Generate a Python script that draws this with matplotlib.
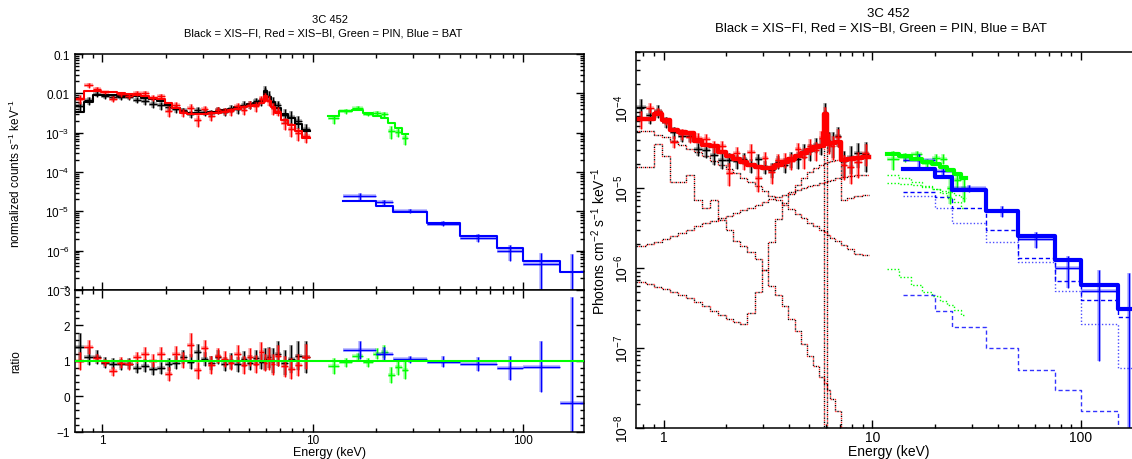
import numpy as np
import matplotlib
matplotlib.use('Agg')
import matplotlib.pyplot as plt
from matplotlib.ticker import LogLocator, FixedLocator, FixedFormatter, NullFormatter, MultipleLocator

plt.rcParams['font.family'] = ['Liberation Sans', 'DejaVu Sans']
plt.rcParams['mathtext.fontset'] = 'custom'
plt.rcParams['mathtext.rm'] = 'Liberation Sans'
plt.rcParams['mathtext.it'] = 'Liberation Sans:italic'
plt.rcParams['mathtext.default'] = 'regular'

# ---------------- XIS (black = FI, red = BI) ----------------
xis_edges = [0.74, 0.82, 0.90, 0.98, 1.07, 1.17, 1.28, 1.40, 1.53, 1.67, 1.82, 1.98, 2.15,
             2.33, 2.52, 2.73, 2.95, 3.18, 3.42, 3.68, 3.95, 4.24, 4.55, 4.88, 5.22, 5.55,
             5.85, 6.05, 6.30, 6.65, 7.10, 7.60, 8.20, 8.90, 9.70]
fi_counts = [0.0034, 0.0059, 0.0090, 0.0090, 0.0090, 0.0088, 0.0087, 0.0086, 0.0075, 0.0070,
             0.0062, 0.0050, 0.0042, 0.0033, 0.0031, 0.0031, 0.0032, 0.0033, 0.0034, 0.0037,
             0.0041, 0.0045, 0.0049, 0.0054, 0.0058, 0.0063, 0.0117, 0.0080, 0.0060, 0.0042,
             0.0030, 0.0024, 0.0017, 0.0011]
bi_counts = [0.0072, 0.0115, 0.0118, 0.0110, 0.0105, 0.0100, 0.0096, 0.0092, 0.0085, 0.0078,
             0.0070, 0.0058, 0.0042, 0.0032, 0.0029, 0.0029, 0.0030, 0.0031, 0.0032, 0.0034,
             0.0037, 0.0040, 0.0044, 0.0047, 0.0051, 0.0056, 0.0085, 0.0062, 0.0046, 0.0031,
             0.0021, 0.0016, 0.0011, 0.00072]
fi_ratio = [1.40, 1.12, 1.10, 0.95, 0.92, 0.90, 0.92, 0.80, 0.86, 0.77, 0.80, 0.90, 0.95, 1.12,
            0.98, 1.25, 1.05, 0.95, 1.10, 0.92, 1.00, 0.90, 1.05, 0.95, 1.08, 0.98, 1.05, 1.10,
            1.00, 1.20, 0.95, 1.05, 1.15, 1.10]
fi_err = [0.38, 0.25, 0.20, 0.15, 0.15, 0.15, 0.15, 0.15, 0.18, 0.18, 0.18, 0.18, 0.18, 0.20,
          0.20, 0.22, 0.20, 0.20, 0.20, 0.20, 0.22, 0.22, 0.22, 0.22, 0.22, 0.22, 0.30, 0.30,
          0.35, 0.35, 0.35, 0.40, 0.40, 0.45]
bi_ratio = [1.00, 1.38, 1.08, 0.96, 0.70, 0.95, 0.90, 1.10, 1.20, 1.00, 1.20, 0.62, 1.20, 1.02,
            1.45, 0.73, 1.35, 0.88, 1.15, 1.05, 0.95, 1.20, 0.88, 1.10, 0.92, 1.25, 0.95, 1.05,
            0.90, 1.15, 0.85, 0.78, 0.88, 1.12]
bi_err = [0.25, 0.20, 0.12, 0.10, 0.12, 0.15, 0.15, 0.15, 0.18, 0.18, 0.18, 0.20, 0.22, 0.22,
          0.35, 0.25, 0.25, 0.25, 0.22, 0.22, 0.22, 0.25, 0.25, 0.25, 0.25, 0.28, 0.25, 0.30,
          0.30, 0.30, 0.30, 0.30, 0.32, 0.35]
# unfolded model components (photons cm^-2 s^-1 keV^-1)
xis_scat = [5.2e-5, 5.2e-5, 4.6e-5, 4.3e-5, 3.9e-5, 3.5e-5, 3.1e-5, 2.8e-5, 2.5e-5, 2.2e-5,
            1.95e-5, 1.75e-5, 1.55e-5, 1.35e-5, 1.2e-5, 1.05e-5, 9.2e-6, 8.0e-6, 7.0e-6, 6.2e-6,
            5.5e-6, 4.8e-6, 4.2e-6, 3.7e-6, 3.3e-6, 3.0e-6, 2.8e-6, 2.6e-6, 2.4e-6, 2.2e-6,
            1.95e-6, 1.7e-6, 1.5e-6, 1.45e-6]
xis_refl = [1.9e-6, 2.0e-6, 2.1e-6, 2.3e-6, 2.5e-6, 2.7e-6, 3.0e-6, 3.3e-6, 3.6e-6, 3.9e-6,
            4.2e-6, 4.5e-6, 4.9e-6, 5.3e-6, 5.7e-6, 6.1e-6, 6.6e-6, 7.2e-6, 7.7e-6, 8.3e-6,
            8.9e-6, 9.5e-6, 1.0e-5, 1.05e-5, 1.1e-5, 1.15e-5, 1.18e-5, 1.22e-5, 1.27e-5, 1.32e-5,
            1.37e-5, 1.41e-5, 1.44e-5, 1.45e-5]
xis_abs = [6.6e-7, 6.2e-7, 5.8e-7, 5.4e-7, 5.0e-7, 4.6e-7, 4.2e-7, 3.7e-7, 3.3e-7, 2.9e-7,
           2.6e-7, 2.3e-7, 2.1e-7, 2.0e-7, 2.7e-7, 5.0e-7, 9.4e-7, 2.1e-6, 4.1e-6, 6.5e-6,
           8.5e-6, 1.1e-5, 1.35e-5, 1.6e-5, 1.8e-5, 1.95e-5, 2.05e-5, 2.1e-5, 2.2e-5, 2.25e-5,
           7.0e-6, 7.5e-6, 8.0e-6, 8.3e-6]
xis_therm = [1.85e-5, 1.85e-5, 3.6e-5, 2.5e-5, 1.2e-5, 1.2e-5, 1.45e-5, 7.0e-6, 5.6e-6, 7.1e-6,
             4.0e-6, 3.0e-6, 2.2e-6, 1.9e-6, 1.6e-6, 1.3e-6, 9.4e-7, 5.9e-7, 4.6e-7, 3.3e-7,
             2.3e-7, 1.6e-7, 1.1e-7, 7.8e-8, 5.9e-8, 4.3e-8, 3.6e-8, 3.0e-8, 2.3e-8, 1.6e-8,
             1.0e-8, 6.0e-9, 4.0e-9, 3.0e-9]
xis_line = [0, 0, 0, 0, 0, 0, 0, 0, 0, 0, 0, 0, 0, 0, 0, 0, 0, 0, 0, 0, 0, 0, 0, 0, 0, 0,
            5.0e-5, 0, 0, 0, 0, 0, 0, 0]

# ---------------- PIN (green) ----------------
pin_edges = [11.8, 13.4, 15.4, 17.4, 19.4, 21.1, 22.7, 24.6, 26.6, 28.3]
pin_counts = [0.0027, 0.0036, 0.0038, 0.0031, 0.0027, 0.0023, 0.0018, 0.0013, 0.00095]
pin_ratio = [0.85, 0.96, 1.13, 0.96, 1.20, 1.26, 0.60, 0.82, 0.75]
pin_err = [0.22, 0.12, 0.10, 0.12, 0.15, 0.18, 0.22, 0.22, 0.25]
pin_scat = [9.6e-7, 7.8e-7, 6.1e-7, 5.0e-7, 4.4e-7, 3.8e-7, 3.4e-7, 3.0e-7, 2.6e-7]
pin_refl = [1.45e-5, 1.32e-5, 1.20e-5, 1.07e-5, 9.6e-6, 8.6e-6, 7.6e-6, 6.6e-6, 5.6e-6]
pin_abs = [1.15e-5, 1.12e-5, 1.08e-5, 1.03e-5, 9.8e-6, 9.3e-6, 8.8e-6, 8.3e-6, 7.5e-6]

# ---------------- BAT (blue) ----------------
bat_edges = [14, 20, 24, 35, 50, 75, 100, 150, 195]
bat_counts = [1.87e-5, 1.4e-5, 9.8e-6, 5.0e-6, 2.4e-6, 1.2e-6, 5.6e-7, 2.9e-7]
bat_ratio = [1.30, 1.20, 1.05, 0.98, 0.90, 0.80, 0.83, -0.20]
bat_err = [0.25, 0.20, 0.10, 0.15, 0.20, 0.35, 0.72, 3.00]
bat_p = [8.8e-6, 7.7e-6, 5.6e-6, 3.0e-6, 1.32e-6, 6.9e-7, 4.0e-7, 2.4e-7]
bat_q = [7.9e-6, 5.6e-6, 3.7e-6, 2.1e-6, 1.17e-6, 5.2e-7, 2.0e-7, 5.6e-8]
bat_scat = [4.6e-7, 2.9e-7, 1.8e-7, 9.9e-8, 5.3e-8, 3.0e-8, 1.6e-8, 8e-9]

BLACK, RED, GREEN, BLUE = '#000000', '#ff0000', '#00ff00', '#0000ff'

W, H = 1132, 460
fig = plt.figure(figsize=(W / 100, H / 100), dpi=100)


def rect(x0, y0, x1, y1):
    return [x0 / W, 1 - y1 / H, (x1 - x0) / W, (y1 - y0) / H]


ax1 = fig.add_axes(rect(74.6, 55, 584.4, 291))
ax2 = fig.add_axes(rect(74.6, 291, 584.4, 432.7))
ax3 = fig.add_axes(rect(636, 52.7, 1141.8, 428.6))


def step(ax, edges, vals, **kw):
    e = np.asarray(edges, float)
    v = np.asarray(vals, float)
    ax.step(e, np.append(v, v[-1]), where='post', **kw)


def points(ax, edges, y, yerr, color, lw=1.0, halo=True):
    e = np.asarray(edges, float)
    lo, hi = e[:-1], e[1:]
    c = np.sqrt(lo * hi)
    if halo:
        ax.errorbar(c, y, yerr=yerr, xerr=[c - lo, hi - c], fmt='none', ecolor=color,
                    elinewidth=lw * 2.6, capsize=0, alpha=0.3)
    ax.errorbar(c, y, yerr=yerr, xerr=[c - lo, hi - c], fmt='none', ecolor=color,
                elinewidth=lw, capsize=0)


# ---------------- left top: counts ----------------
for counts, ratio, err, col in [(fi_counts, fi_ratio, fi_err, BLACK),
                                (bi_counts, bi_ratio, bi_err, RED)]:
    m = np.array(counts)
    points(ax1, xis_edges, m * np.array(ratio), m * np.array(err), col)
    step(ax1, xis_edges, m, color=col, lw=1.5)
m = np.array(pin_counts)
points(ax1, pin_edges, m * np.array(pin_ratio), m * np.array(pin_err), GREEN)
step(ax1, pin_edges, m, color=GREEN, lw=1.5)
m = np.array(bat_counts)
points(ax1, bat_edges, m * np.array(bat_ratio), m * np.array(bat_err), BLUE)
step(ax1, bat_edges, m, color=BLUE, lw=1.5)

# ---------------- left bottom: ratio ----------------
points(ax2, xis_edges, fi_ratio, fi_err, BLACK)
points(ax2, xis_edges, bi_ratio, bi_err, RED)
points(ax2, pin_edges, pin_ratio, pin_err, GREEN)
points(ax2, bat_edges, bat_ratio, bat_err, BLUE)
ax2.axhline(1.0, color=GREEN, lw=1.5, zorder=3)

# ---------------- right: unfolded spectrum ----------------
xis_comps = [xis_scat, xis_refl, xis_abs, xis_therm, xis_line]
for comp in xis_comps:
    step(ax3, xis_edges, comp, color=BLACK, lw=1.0, linestyle=(0, (1, 2)))
    step(ax3, xis_edges, comp, color=RED, lw=1.0, linestyle=(1.5, (1, 2)), alpha=0.85)
for comp in [pin_refl, pin_abs, pin_scat]:
    step(ax3, pin_edges, comp, color=GREEN, lw=1.0, linestyle=(0, (1, 1.5)))
step(ax3, bat_edges, bat_p, color=BLUE, lw=1.0, linestyle=(0, (3, 2)))
step(ax3, bat_edges, bat_q, color=BLUE, lw=1.0, linestyle=(0, (1, 1.5)), alpha=0.7)
step(ax3, bat_edges, bat_scat, color=BLUE, lw=1.0, linestyle=(0, (3, 2)), alpha=0.8)

xis_tot = np.sum(np.array(xis_comps), axis=0)
pin_tot = np.array(pin_scat) + np.array(pin_refl) + np.array(pin_abs)
bat_tot = np.array(bat_p) + np.array(bat_q) + np.array(bat_scat)

points(ax3, xis_edges, xis_tot * np.array(fi_ratio), xis_tot * np.array(fi_err), BLACK)
points(ax3, xis_edges, xis_tot * np.array(bi_ratio), xis_tot * np.array(bi_err), RED)
points(ax3, pin_edges, pin_tot * np.array(pin_ratio), pin_tot * np.array(pin_err), GREEN)
points(ax3, bat_edges, bat_tot * np.array(bat_ratio), bat_tot * np.array(bat_err), BLUE)
step(ax3, xis_edges, xis_tot, color=BLACK, lw=2.0)
step(ax3, xis_edges, xis_tot, color=RED, lw=3.2)
step(ax3, pin_edges, pin_tot, color=GREEN, lw=3.0)
step(ax3, bat_edges, bat_tot, color=BLUE, lw=3.0)

# ---------------- axes styling ----------------
xlim = (0.737, 196)
for ax in (ax1, ax2, ax3):
    ax.set_xscale('log')
    ax.set_xlim(*xlim)
    ax.xaxis.set_major_locator(FixedLocator([1, 10, 100]))
    ax.xaxis.set_minor_locator(LogLocator(base=10, subs=np.arange(2, 10)))
    ax.xaxis.set_minor_formatter(NullFormatter())
    ax.tick_params(which='both', direction='in', top=True, right=True, width=1.0)
    ax.tick_params(which='major', length=6)
    ax.tick_params(which='minor', length=3)
    ax.tick_params(axis='x', pad=2)
    for s in ax.spines.values():
        s.set_linewidth(1.1)

ax1.set_yscale('log')
ax1.set_ylim(1e-7, 0.1)
ax1.yaxis.set_major_locator(FixedLocator([1e-7, 1e-6, 1e-5, 1e-4, 1e-3, 1e-2, 1e-1]))
ax1.yaxis.set_major_formatter(FixedFormatter(['$10^{-7}$', '$10^{-6}$', '$10^{-5}$', '$10^{-4}$',
                                              '$10^{-3}$', '0.01', '0.1']))
ax1.yaxis.set_minor_locator(LogLocator(base=10, subs=np.arange(2, 10)))
ax1.yaxis.set_minor_formatter(NullFormatter())
ax1.tick_params(axis='x', labelbottom=False)
ax1.tick_params(labelsize=8.5)
ax1.set_ylabel('normalized counts s$^{-1}$ keV$^{-1}$', fontsize=8.5)

ax2.set_ylim(-1, 3)
ax2.yaxis.set_major_locator(MultipleLocator(1))
ax2.yaxis.set_minor_locator(MultipleLocator(0.2))
ax2.xaxis.set_major_formatter(FixedFormatter(['1', '10', '100']))
ax2.tick_params(labelsize=8.5)
ax2.set_ylabel('ratio', fontsize=8.5)
ax2.set_xlabel('Energy (keV)', fontsize=9, labelpad=0)
ax1.yaxis.set_label_coords(-0.102, 0.5)
ax2.yaxis.set_label_coords(-0.102, 0.5)

ax3.set_yscale('log')
ax3.set_ylim(1e-8, 5.1e-4)
ax3.yaxis.set_major_locator(FixedLocator([1e-8, 1e-7, 1e-6, 1e-5, 1e-4]))
ax3.yaxis.set_major_formatter(FixedFormatter(['$10^{-8}$', '$10^{-7}$', '$10^{-6}$',
                                              '$10^{-5}$', '$10^{-4}$']))
ax3.yaxis.set_minor_locator(LogLocator(base=10, subs=np.arange(2, 10)))
ax3.yaxis.set_minor_formatter(NullFormatter())
ax3.xaxis.set_major_formatter(FixedFormatter(['1', '10', '100']))
ax3.tick_params(labelsize=10)
ax3.tick_params(axis='x', pad=2)
ax3.tick_params(axis='y', labelrotation=90)
for lab in ax3.get_yticklabels():
    lab.set_va('center')
ax3.set_ylabel('Photons cm$^{-2}$ s$^{-1}$ keV$^{-1}$', fontsize=10, labelpad=3)
ax3.set_xlabel('Energy (keV)', fontsize=10, labelpad=0)

# titles
fig.text(329.5 / W, 1 - 20 / H, '3C 452', ha='center', va='center', fontsize=8)
fig.text(323 / W, 1 - 33 / H, 'Black = XIS\u2212FI, Red = XIS\u2212BI, Green = PIN, Blue = BAT',
         ha='center', va='center', fontsize=8)
fig.text(888 / W, 1 - 14 / H, '3C 452', ha='center', va='center', fontsize=9.5)
fig.text(881 / W, 1 - 28.5 / H, 'Black = XIS\u2212FI, Red = XIS\u2212BI, Green = PIN, Blue = BAT',
         ha='center', va='center', fontsize=9.5)

fig.savefig('out.png', dpi=100)
